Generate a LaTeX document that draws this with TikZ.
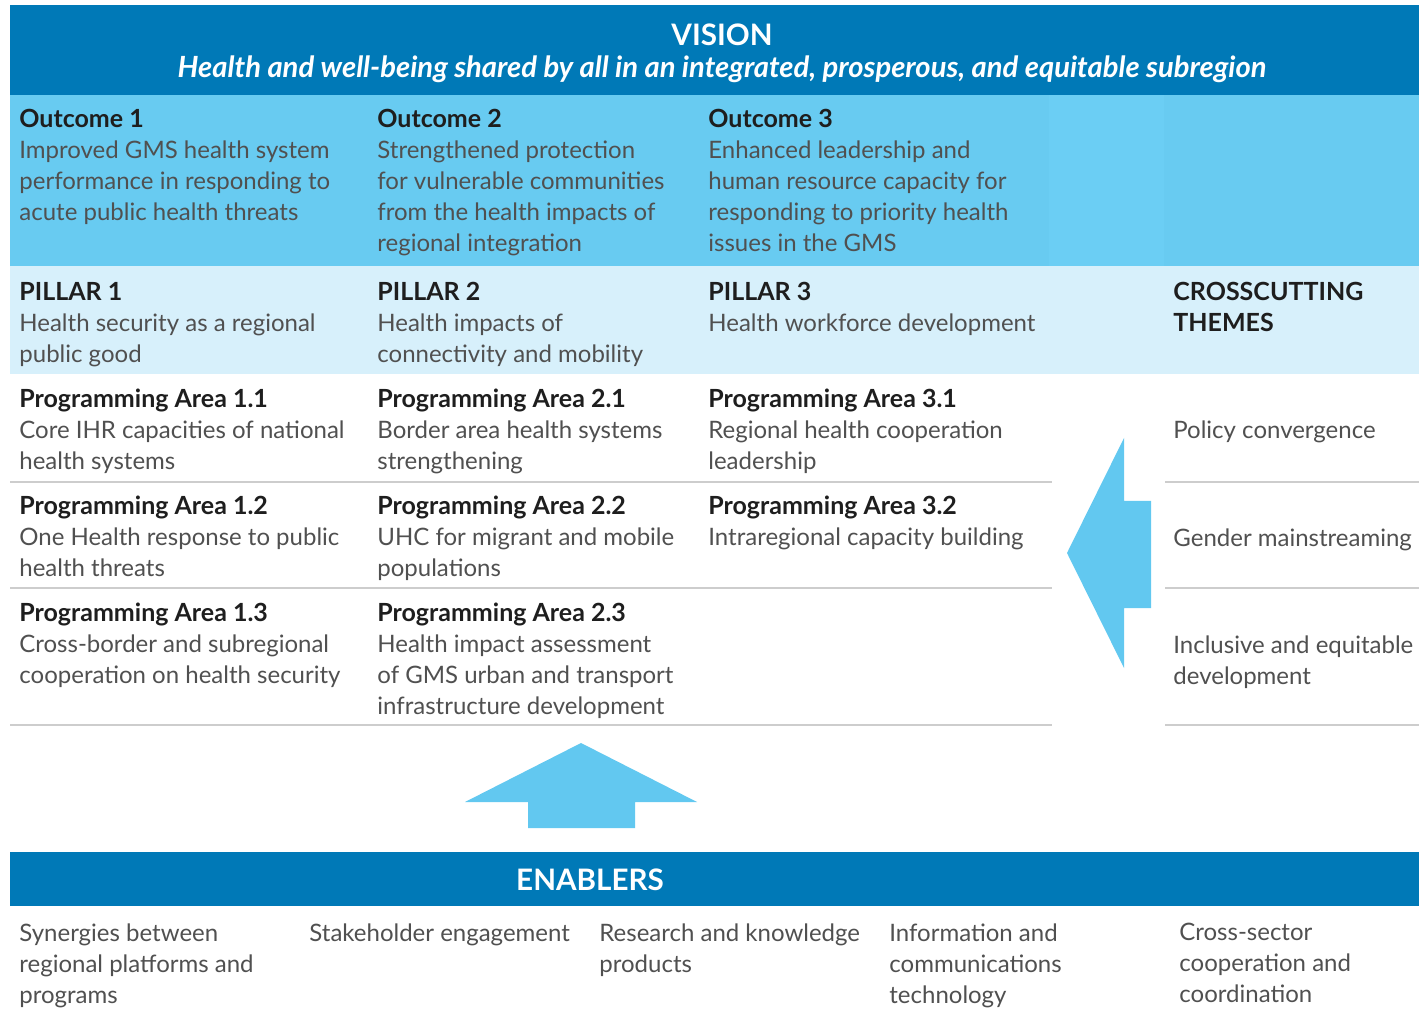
\documentclass[tikz,border=0pt]{standalone}
\usepackage{fontspec}
\setmainfont{Lato}
\definecolor{darkband}{RGB}{0,121,183}
\definecolor{outband}{RGB}{104,203,241}
\definecolor{outbandlight}{RGB}{107,206,244}
\definecolor{pilband}{RGB}{215,240,251}
\definecolor{arrowcol}{RGB}{98,200,240}
\definecolor{rulecol}{RGB}{205,205,205}
\definecolor{bodycol}{RGB}{80,80,80}
\definecolor{headcol}{RGB}{30,30,30}
\newcommand{\hd}[1]{{\color{headcol}\bfseries\fontsize{12.5}{15.5}\selectfont #1}}
\begin{document}
\begin{tikzpicture}[x=0.5pt,y=-0.5pt,
  txt/.style={anchor=north west, inner sep=0pt, align=left, text=bodycol,
    font=\fontsize{12}{15.5}\selectfont},
  bandtitle/.style={inner sep=0pt, text=white, font=\bfseries\fontsize{14.8}{18}\selectfont},
  sep/.style={rulecol, line width=1pt}]
\useasboundingbox (0,0) rectangle (1419,1010);
\fill[white] (0,0) rectangle (1419,1010);
% bands
\fill[darkband] (10,5) rectangle (1419,95);
\fill[outband] (10,95) rectangle (1419,266);
\fill[outbandlight] (1049,95) rectangle (1164,266);
\fill[pilband] (10,266) rectangle (1419,374);
\fill[darkband] (10,852) rectangle (1419,906);
% separators
\foreach \yy in {482,588,725} {
  \draw[sep] (10,\yy) -- (1052,\yy);
  \draw[sep] (1165,\yy) -- (1419,\yy);
}
% arrows
\fill[arrowcol] (1067,553) -- (1124,438) -- (1124,501) -- (1151,501) -- (1151,608)
  -- (1124,608) -- (1124,668) -- cycle;
\fill[arrowcol] (581,743) -- (697,802) -- (635,802) -- (635,828) -- (528,828)
  -- (528,802) -- (465,802) -- cycle;
% vision
\node[bandtitle] (vision) at (722,35) {VISION};
\node[bandtitle, font=\bfseries\itshape\fontsize{14.6}{18}\selectfont] (visiontext) at (722,69)
  {Health and well-being shared by all in an integrated, prosperous, and equitable subregion};
% outcomes
\node[txt] (o1) at (19,109) {\hd{Outcome 1}\\Improved GMS health system\\performance in responding to\\acute public health threats};
\node[txt] (o2) at (377,109) {\hd{Outcome 2}\\Strengthened protection\\for vulnerable communities\\from the health impacts of\\regional integration};
\node[txt] (o3) at (708,109) {\hd{Outcome 3}\\Enhanced leadership and\\human resource capacity for\\responding to priority health\\issues in the GMS};
% pillars
\node[txt] (p1) at (19,282) {\hd{PILLAR 1}\\Health security as a regional\\public good};
\node[txt] (p2) at (377,282) {\hd{PILLAR 2}\\Health impacts of\\connectivity and mobility};
\node[txt] (p3) at (708,282) {\hd{PILLAR 3}\\Health workforce development};
\node[txt] (cc) at (1173,282) {\hd{CROSSCUTTING}\\\hd{THEMES}};
% programming areas
\node[txt] (pa11) at (19,389) {\hd{Programming Area 1.1}\\Core IHR capacities of national\\health systems};
\node[txt] (pa21) at (377,389) {\hd{Programming Area 2.1}\\Border area health systems\\strengthening};
\node[txt] (pa31) at (708,389) {\hd{Programming Area 3.1}\\Regional health cooperation\\leadership};
\node[txt] (pa12) at (19,496) {\hd{Programming Area 1.2}\\One Health response to public\\health threats};
\node[txt] (pa22) at (377,496) {\hd{Programming Area 2.2}\\UHC for migrant and mobile\\populations};
\node[txt] (pa32) at (708,496) {\hd{Programming Area 3.2}\\Intraregional capacity building};
\node[txt] (pa13) at (19,603) {\hd{Programming Area 1.3}\\Cross-border and subregional\\cooperation on health security};
\node[txt] (pa23) at (377,603) {\hd{Programming Area 2.3}\\Health impact assessment\\of GMS urban and transport\\infrastructure development};
% crosscutting themes
\node[txt] (t1) at (1173,420) {Policy convergence};
\node[txt] (t2) at (1173,528) {Gender mainstreaming};
\node[txt] (t3) at (1173,635) {Inclusive and equitable\\development};
% enablers
\node[bandtitle] (enablers) at (590,880) {ENABLERS};
\node[txt] (e1) at (19,923) {Synergies between\\regional platforms and\\programs};
\node[txt] (e2) at (309,923) {Stakeholder engagement};
\node[txt] (e3) at (599,923) {Research and knowledge\\products};
\node[txt] (e4) at (889,923) {Information and\\communications\\technology};
\node[txt] (e5) at (1179,923) {Cross-sector\\cooperation and\\coordination};
\end{tikzpicture}
\end{document}
